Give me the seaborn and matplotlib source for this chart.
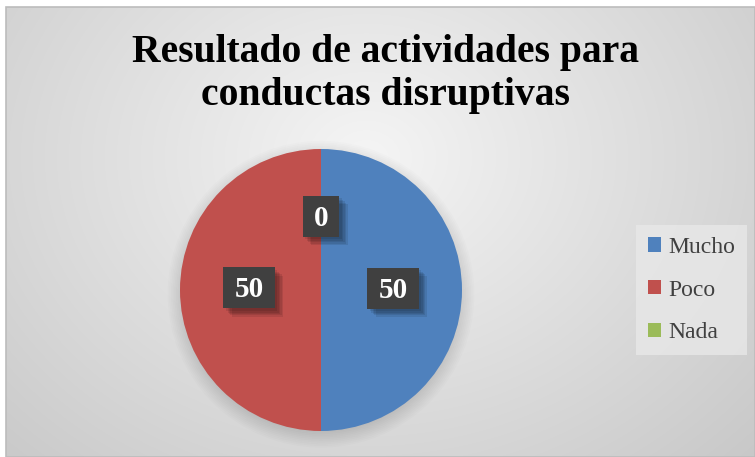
import numpy as np
import matplotlib
matplotlib.use("Agg")
import matplotlib.pyplot as plt
import matplotlib.patheffects as pe
from matplotlib.patches import Rectangle, Circle
from matplotlib.transforms import IdentityTransform
import seaborn as sns

# datos del grafico
categorias = ["Mucho", "Poco", "Nada"]
valores = [50, 50, 0]
colores = ["#4F81BD", "#C0504D", "#9BBB59"]
titulo = "Resultado de actividades para\nconductas disruptivas"

sns.set_theme(style="white")
plt.rcParams["font.family"] = ["Liberation Serif", "DejaVu Serif"]

W, H = 755, 457
fig = plt.figure(figsize=(W / 100, H / 100), dpi=100)
fig.patch.set_facecolor("white")

# fondo con degradado radial
bg = fig.add_axes([6 / W, 0, (W - 6) / W, (H - 7) / H])
bg.set_axis_off()
yy, xx = np.mgrid[0:450, 0:749]
d = np.sqrt(((xx - 360) / 520) ** 2 + ((yy - 150) / 420) ** 2)
g = np.clip(0.96 - 0.17 * d, 0.78, 0.97)
bg.imshow(np.dstack([g, g, g]), aspect="auto", extent=(0, 1, 0, 1), zorder=0)
bg.set_xlim(0, 1)
bg.set_ylim(0, 1)
bg.add_patch(Rectangle((0, 0), 1, 1, transform=bg.transAxes, fill=False,
                       edgecolor="#bcbcbc", linewidth=1.2, zorder=5, clip_on=False))

# pastel
cx, cy, r = 321, 290, 141
ax = fig.add_axes([(cx - r) / W, (H - cy - r) / H, 2 * r / W, 2 * r / H])
for k in range(10):
    ax.add_patch(Circle((0.0, -0.03), 0.98 + 0.012 * k, color="black",
                        alpha=0.012, lw=0, zorder=0, clip_on=False))
wedges, _, autotexts = ax.pie(
    valores, colors=colores, startangle=90, counterclock=False,
    autopct=lambda p: "{:.0f}".format(p * sum(valores) / 100),
    pctdistance=0.51, wedgeprops=dict(linewidth=0),
    textprops=dict(color="white", fontsize=21, fontweight="bold"))
for w in wedges:
    w.set_zorder(2)
ax.set_xlim(-1, 1)
ax.set_ylim(-1, 1)
ax.set_axis_off()

# cajas oscuras detras de las etiquetas
fig.canvas.draw()
rend = fig.canvas.get_renderer()
sombra = [pe.SimplePatchShadow(offset=(o, -o), shadow_rgbFace="black", alpha=0.09)
          for o in (2, 3, 4, 5, 6)] + [pe.Normal()]
for t in autotexts:
    t.set_zorder(5)
    bb = t.get_window_extent(rend)
    xc = (bb.x0 + bb.x1) / 2
    yc = (bb.y0 + bb.y1) / 2 + 2
    bw, bh = bb.width + 22, 41
    caja = Rectangle((xc - bw / 2, yc - bh / 2), bw, bh, transform=IdentityTransform(),
                     facecolor="#404040", edgecolor="none", zorder=3, clip_on=False)
    caja.set_path_effects(sombra)
    ax.add_artist(caja)

# titulo
fig.text(385 / W, 1 - 74 / H, titulo, ha="center", va="center", fontsize=28.5,
         fontweight="bold", color="black", linespacing=1.2)

# leyenda
leg = fig.legend(wedges, categorias, loc="center left",
                 bbox_to_anchor=(636 / W, 1 - 290 / H), fontsize=17,
                 frameon=True, fancybox=False, handlelength=0.55, handleheight=0.55,
                 handletextpad=0.3, labelspacing=0.92, borderpad=0.5, borderaxespad=0)
leg.get_frame().set_facecolor("#e8e8e8")
leg.get_frame().set_edgecolor("none")
for txt in leg.get_texts():
    txt.set_color("#404040")

fig.savefig("out.png", dpi=100)
